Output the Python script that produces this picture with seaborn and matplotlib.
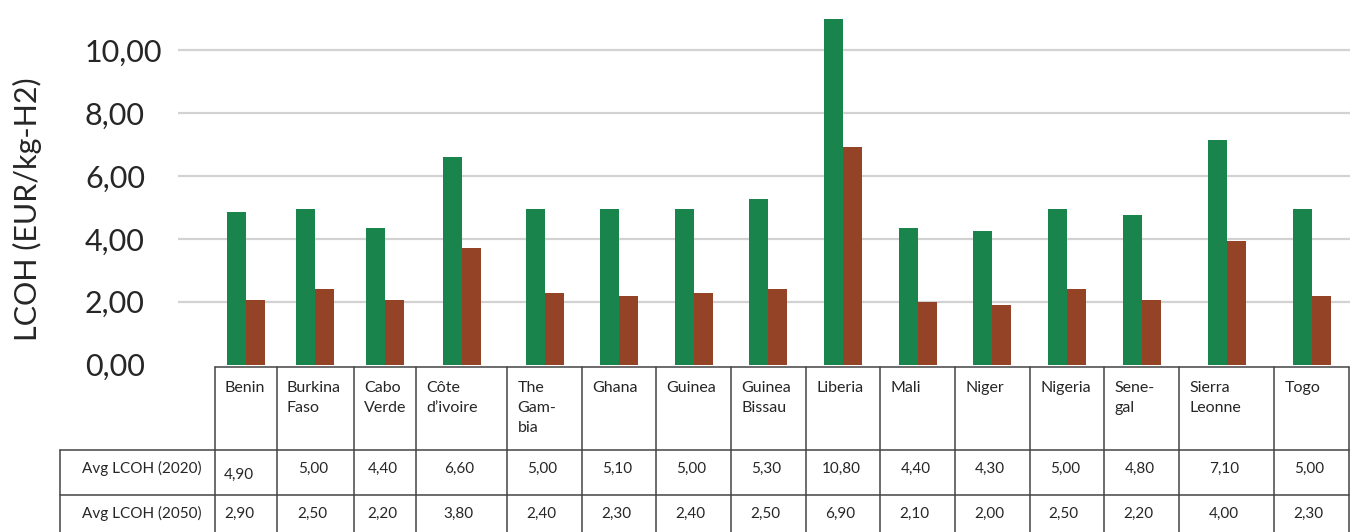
import numpy as np
import pandas as pd
import matplotlib
matplotlib.use("Agg")
import matplotlib.pyplot as plt
from matplotlib.lines import Line2D
from matplotlib.ticker import FuncFormatter, FixedLocator
import seaborn as sns

# ---------------- data ----------------
countries = ["Benin", "Burkina Faso", "Cabo Verde", "Côte d’ivoire", "The Gambia",
             "Ghana", "Guinea", "Guinea Bissau", "Liberia", "Mali", "Niger",
             "Nigeria", "Senegal", "Sierra Leonne", "Togo"]
header_labels = ["Benin", "Burkina\nFaso", "Cabo\nVerde", "Côte\nd’ivoire", "The\nGam-\nbia",
                 "Ghana", "Guinea", "Guinea\nBissau", "Liberia", "Mali", "Niger",
                 "Nigeria", "Sene-\ngal", "Sierra\nLeonne", "Togo"]
series_names = ["Avg LCOH (2020)", "Avg LCOH (2050)"]
# bar heights as drawn
bars_2020 = [4.85, 4.95, 4.34, 6.60, 4.94, 4.94, 4.94, 5.27, 10.98, 4.34, 4.25, 4.94, 4.75, 7.14, 4.94]
bars_2050 = [2.05, 2.40, 2.05, 3.71, 2.28, 2.18, 2.28, 2.40, 6.92, 1.99, 1.90, 2.40, 2.05, 3.93, 2.18]
# values printed in the data table
table_2020 = [4.90, 5.00, 4.40, 6.60, 5.00, 5.10, 5.00, 5.30, 10.80, 4.40, 4.30, 5.00, 4.80, 7.10, 5.00]
table_2050 = [2.90, 2.50, 2.20, 3.80, 2.40, 2.30, 2.40, 2.50, 6.90, 2.10, 2.00, 2.50, 2.20, 4.00, 2.30]
y_ticks = [0, 2, 4, 6, 8, 10]
y_label = "LCOH (EUR/kg-H2)"

# ---------------- layout / style ----------------
W, H = 1350, 532
DPI = 100
GREEN = "#19854C"
BROWN = "#954327"
GRID = "#D2D2D2"
LINE = "#444444"
TXT = "#262626"

col_edges = [214.5, 276.5, 353.8, 416, 507, 582, 656, 731, 805.5, 880.4,
             955, 1029.5, 1104, 1179, 1274.3, 1349]
col_centers = [(a + b) / 2 for a, b in zip(col_edges[:-1], col_edges[1:])]
axes_left_px, axes_right_px = 178, 1350
baseline_px = 364.7
px_per_unit = 31.47
pair_width_px = 38
hdr_top, row1_top, row2_top = 367.3, 450, 495
rowlabel_left = 60

sns.set_style("white")
plt.rcParams["font.family"] = ["Lato", "DejaVu Sans"]

def fx(x):
    return x / W

def fy(y):
    return 1 - y / H

fig = plt.figure(figsize=(W / DPI, H / DPI), dpi=DPI)
ax = fig.add_axes([fx(axes_left_px), fy(baseline_px),
                   fx(axes_right_px) - fx(axes_left_px), baseline_px / H])

df = pd.DataFrame({
    "country": countries * 2,
    "xpos": col_centers * 2,
    "series": [series_names[0]] * len(countries) + [series_names[1]] * len(countries),
    "value": bars_2020 + bars_2050,
})
min_spacing = np.min(np.diff(np.unique(col_centers)))
sns.barplot(data=df, x="xpos", y="value", hue="series", hue_order=series_names,
            palette=[GREEN, BROWN], native_scale=True, dodge=True,
            width=pair_width_px / min_spacing, saturation=1, legend=False,
            linewidth=0, errorbar=None, ax=ax)

ax.set_xlim(axes_left_px, axes_right_px)
ax.set_ylim(0, baseline_px / px_per_unit)
ax.set_xlabel("")
ax.set_ylabel("")
ax.xaxis.set_visible(False)
for s in ax.spines.values():
    s.set_visible(False)
ax.yaxis.set_major_locator(FixedLocator(y_ticks))
ax.yaxis.set_major_formatter(FuncFormatter(lambda v, p: f"{v:.2f}".replace(".", ",")))
ax.set_axisbelow(True)
ax.grid(axis="y", color=GRID, linewidth=1.6)
ax.get_ygridlines()[0].set_visible(False)
ax.tick_params(axis="y", length=0, pad=(axes_left_px - 85) * 72 / DPI,
               labelsize=22, labelcolor=TXT)
for lab in ax.get_yticklabels():
    lab.set_horizontalalignment("left")

fig.text(fx(27), fy(209), y_label, rotation=90, ha="center", va="center",
         fontsize=22, color=TXT)

# ---------------- data table ----------------
def hline(y, x0, x1):
    fig.add_artist(Line2D([fx(x0), fx(x1)], [fy(y), fy(y)], color=LINE,
                          linewidth=1.1, transform=fig.transFigure))

def vline(x, y0, y1):
    fig.add_artist(Line2D([fx(x), fx(x)], [fy(y0), fy(y1)], color=LINE,
                          linewidth=1.1, transform=fig.transFigure))

hline(hdr_top, col_edges[0], col_edges[-1])
hline(row1_top, rowlabel_left, col_edges[-1])
hline(row2_top, rowlabel_left, col_edges[-1])
vline(rowlabel_left, row1_top, H + 2)
for e in col_edges:
    vline(e, hdr_top, H + 2)

for i, lab in enumerate(header_labels):
    for j, line in enumerate(lab.split("\n")):
        fig.text(fx(col_edges[i] + 10.5), fy(391.7 + 20 * j), line, ha="left",
                 va="baseline", fontsize=11.5, color=TXT)

fig.text(fx(202), fy(472.7), series_names[0], ha="right", va="baseline",
         fontsize=11, color=TXT)
fig.text(fx(202), fy(518.0), series_names[1], ha="right", va="baseline",
         fontsize=11, color=TXT)

fmt = lambda v: f"{v:.2f}".replace(".", ",")
for i in range(len(countries)):
    if i == 0:
        fig.text(fx(col_edges[0] + 9.5), fy(479), fmt(table_2020[i]), ha="left",
                 va="baseline", fontsize=11, color=TXT)
        fig.text(fx(col_edges[0] + 9.5), fy(518.3), fmt(table_2050[i]), ha="left",
                 va="baseline", fontsize=11, color=TXT)
    else:
        fig.text(fx(col_centers[i] - 2), fy(473.3), fmt(table_2020[i]), ha="center",
                 va="baseline", fontsize=11, color=TXT)
        fig.text(fx(col_centers[i] - 3), fy(518.3), fmt(table_2050[i]), ha="center",
                 va="baseline", fontsize=11, color=TXT)

fig.savefig("out.png", dpi=DPI)
